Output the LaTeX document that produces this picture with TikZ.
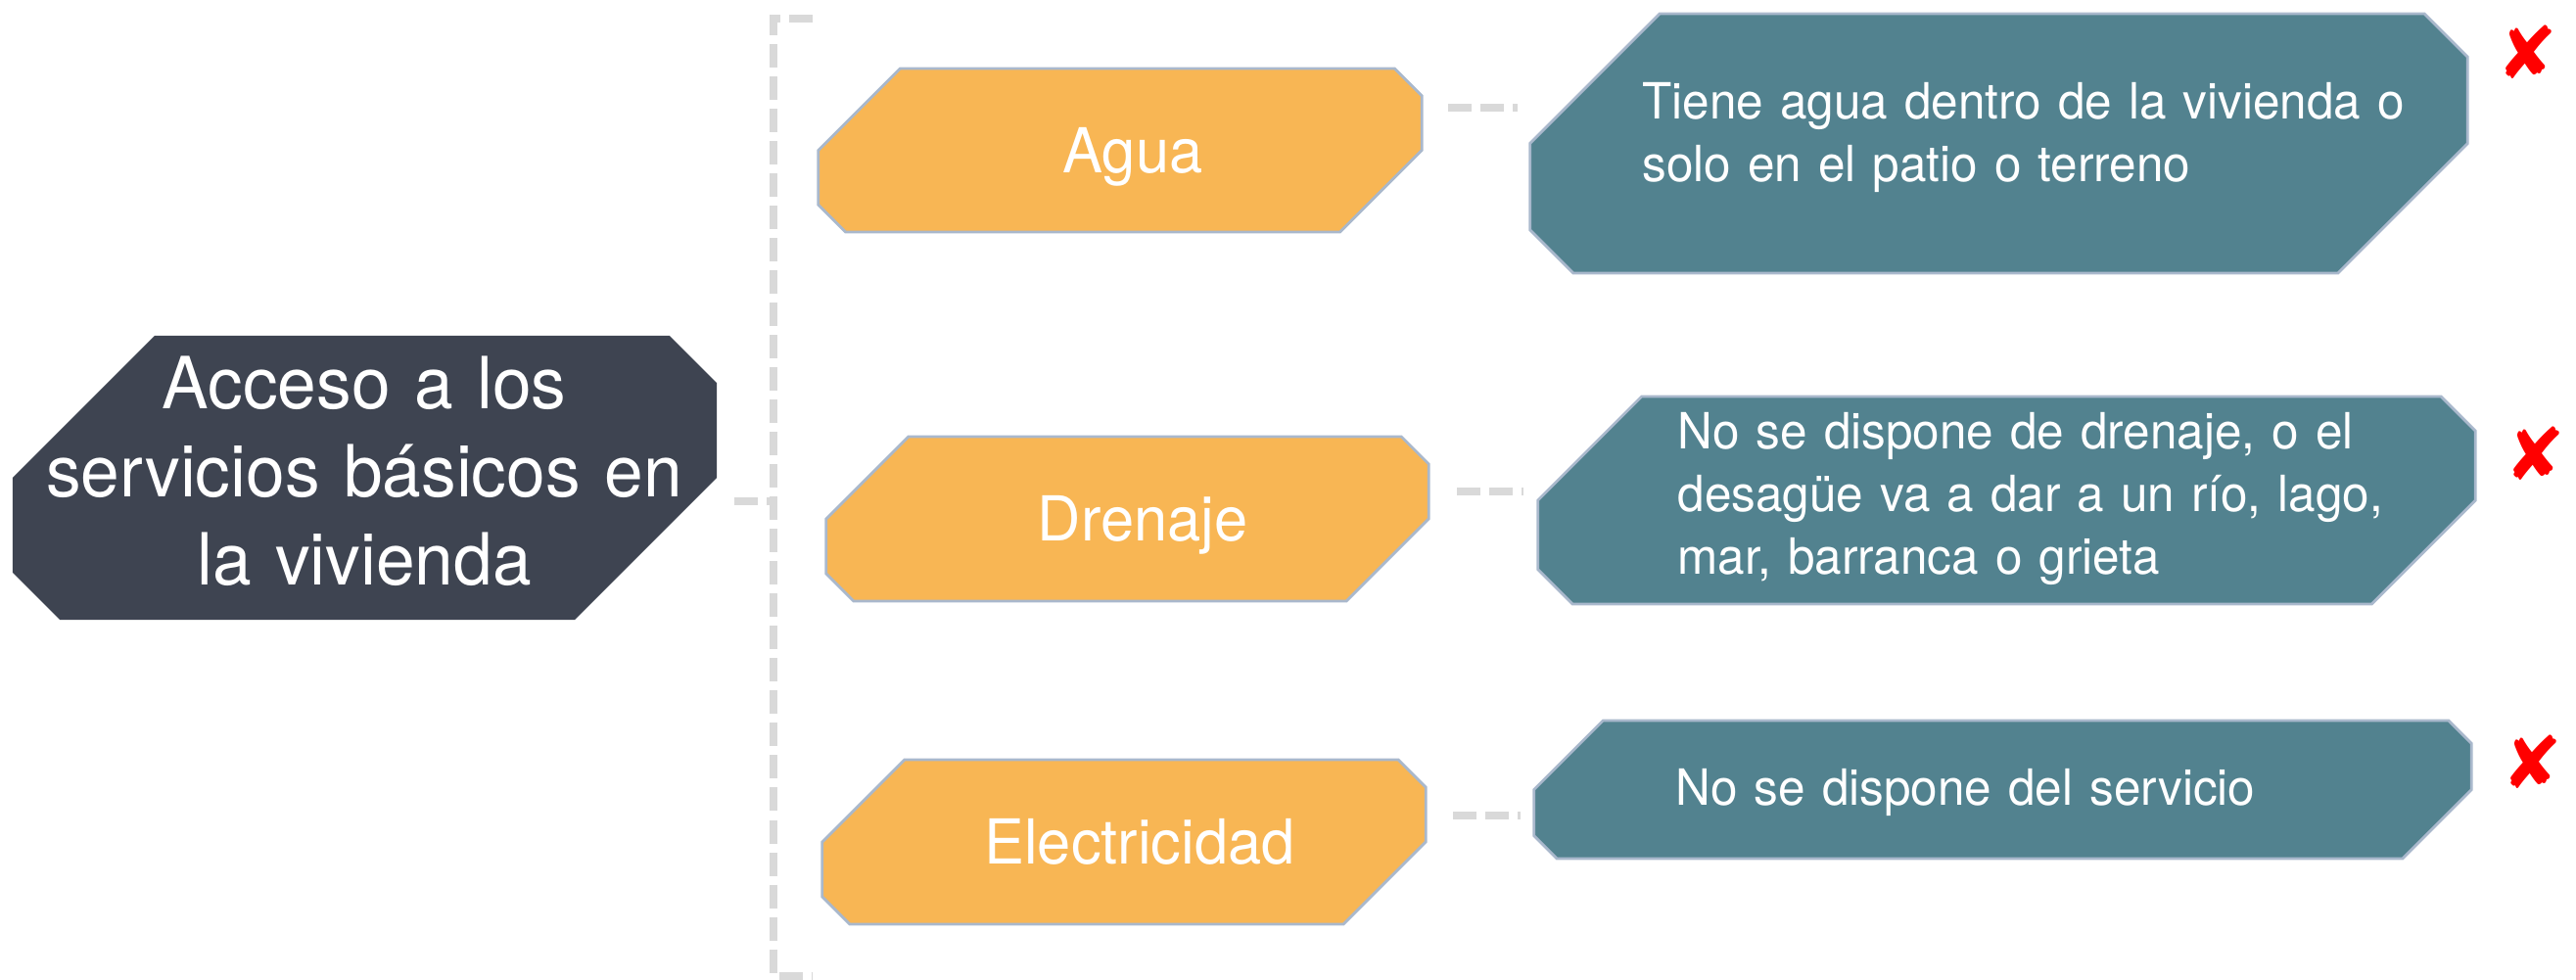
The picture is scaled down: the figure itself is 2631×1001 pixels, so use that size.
\documentclass[tikz,border=0pt]{standalone}
\usepackage{fontspec}
\setmainfont[FakeStretch=0.97]{TeX Gyre Heros}
\newfontfamily\symfont{DejaVu Sans}
\usetikzlibrary{calc}
\definecolor{darkbox}{HTML}{3E4451}
\definecolor{orangebox}{HTML}{F8B654}
\definecolor{tealbox}{HTML}{52828F}
\definecolor{edgeblue}{HTML}{A9B8CC}
\definecolor{dashgray}{HTML}{D9D9D9}
\definecolor{markred}{HTML}{FF0000}
\newcommand\snipshape[2]{%
  \path[#2] let \p1=(#1.north west), \p2=(#1.south east),
    \n1={(\y1-\y2)/2}, \n2={(\y1-\y2)/6} in
  (\x1,\y1-\n1) -- (\x1+\n1,\y1) -- (\x2-\n2,\y1) -- (\x2,\y1-\n2)
  -- (\x2,\y2+\n1) -- (\x2-\n1,\y2) -- (\x1+\n2,\y2) -- (\x1,\y2+\n2) -- cycle;}
\tikzset{
  frame/.style={rectangle, inner sep=0pt, outer sep=0pt},
  darkfill/.style={fill=darkbox},
  orangefill/.style={fill=orangebox, draw=edgeblue, line width=0.8pt},
  tealfill/.style={fill=tealbox, draw=edgeblue, line width=0.8pt},
  maintext/.style={inner sep=0pt, anchor=base, text=white, text width=7.1cm, align=center,
    font=\fontsize{20.9pt}{25.5pt}\selectfont},
  catext/.style={inner sep=0pt, anchor=base, text=white, font=\fontsize{18pt}{21pt}\selectfont},
  desctext/.style={inner sep=0pt, anchor=base west, text=white, text width=9cm, align=left,
    font=\fontsize{14.5pt}{18.1pt}\selectfont},
  conn/.style={draw=dashgray, line width=0.08cm, dash pattern=on 0.24cm off 0.09cm},
  xmark/.style={inner sep=0pt, text=markred, font=\symfont\fontsize{21pt}{21pt}\selectfont}
}
\begin{document}
\begin{tikzpicture}[x=0.01cm, y=-0.01cm]
\useasboundingbox (0,0) rectangle (2631,1001);
% central node
\node[frame, minimum width=7.19cm, minimum height=2.90cm] (centro) at (372.5,488) {};
\snipshape{centro}{darkfill}
\node[maintext] (centroT) at (372,418) {Acceso a los\\servicios básicos en\\la vivienda};
% category nodes
\node[frame, minimum width=6.16cm, minimum height=1.67cm] (agua) at (1144,153.5) {};
\snipshape{agua}{orangefill}
\node[catext] (aguaT) at (1157,177) {Agua};
\node[frame, minimum width=6.15cm, minimum height=1.68cm] (dren) at (1151.5,530) {};
\snipshape{dren}{orangefill}
\node[catext] (drenT) at (1167,553) {Drenaje};
\node[frame, minimum width=6.16cm, minimum height=1.68cm] (elec) at (1148,860) {};
\snipshape{elec}{orangefill}
\node[catext] (elecT) at (1164,883) {Electricidad};
% description nodes
\node[frame, minimum width=9.57cm, minimum height=2.65cm] (tagua) at (2041.5,146.5) {};
\snipshape{tagua}{tealfill}
\node[desctext] (taguaT) at (1677,122) {Tiene agua dentro de la vivienda o\\solo en el patio o terreno};
\node[frame, minimum width=9.57cm, minimum height=2.12cm] (tdren) at (2049.5,511) {};
\snipshape{tdren}{tealfill}
\node[desctext] (tdrenT) at (1713,459) {No se dispone de drenaje, o el\\desagüe va a dar a un río, lago,\\mar, barranca o grieta};
\node[frame, minimum width=9.57cm, minimum height=1.41cm] (telec) at (2045.5,806.5) {};
\snipshape{telec}{tealfill}
\node[desctext] (telecT) at (1711,823) {No se dispone del servicio};
% marks
\node[xmark] (xa) at (2581,53) {✘};
\node[xmark] (xd) at (2589,463) {✘};
\node[xmark] (xe) at (2586,778) {✘};
% connectors
\coordinate (cOut) at (750,512);
\coordinate (bTop) at (830,19);
\coordinate (bTopC) at (790,19);
\coordinate (bBotC) at (790,997);
\coordinate (bBot) at (830,997);
\coordinate (bMid) at (790,512);
\draw[conn] (bTop) -- (bTopC) -- (bBotC) -- (bBot);
\draw[conn] (cOut) -- (bMid);
\coordinate (aOut) at (1479,110);
\coordinate (aIn) at (1550,110);
\coordinate (dOut) at (1488,502);
\coordinate (dIn) at (1556,502);
\coordinate (eOut) at (1484,833);
\coordinate (eIn) at (1553,833);
\draw[conn] (aOut) -- (aIn);
\draw[conn] (dOut) -- (dIn);
\draw[conn] (eOut) -- (eIn);
\end{tikzpicture}
\end{document}
